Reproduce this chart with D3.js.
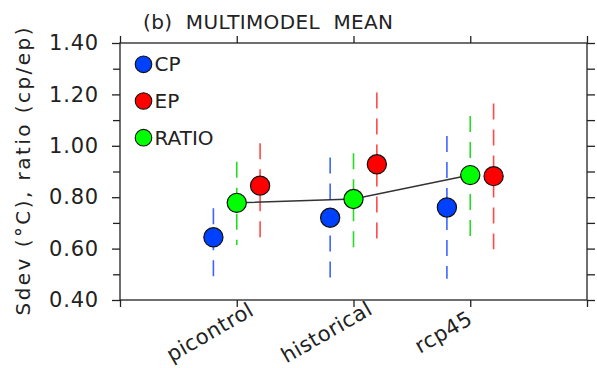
<!DOCTYPE html>
<html>
<head>
<meta charset="utf-8">
<script src="https://cdn.jsdelivr.net/npm/d3@7"></script>
<style>
  body { margin: 0; background: #fff; }
  text { font-family: "DejaVu Sans", sans-serif; fill: #222; }
</style>
</head>
<body>
<div id="chart"></div>
<script>
// experiments on the x axis
const experiments = ['picontrol', 'historical', 'rcp45'];

// multimodel mean values
const cpMean = [0.644, 0.72, 0.76];
const epMean = [0.845, 0.928, 0.882];
const ratioMean = [0.778, 0.793, 0.886];

// spread (vertical dashed bars)
const cpLow = [0.49, 0.483, 0.483];
const cpHigh = [0.757, 0.954, 1.038];
const epLow = [0.642, 0.633, 0.597];
const epHigh = [1.01, 1.207, 1.165];
const ratioLow = [0.614, 0.604, 0.646];
const ratioHigh = [0.938, 0.971, 1.116];

const yMajor = [0.4, 0.6, 0.8, 1.0, 1.2, 1.4];
const yMinor = [0.5, 0.7, 0.9, 1.1, 1.3];
const legendNames = ['CP', 'EP', 'RATIO'];

const width = 597, height = 368;
const margin = {top: 43, right: 10, bottom: 68, left: 120};

const svg = d3.select('#chart').append('svg')
  .attr('width', width)
  .attr('height', height);

const x = d3.scaleLinear().domain([0, 4]).range([margin.left, width - margin.right]);
const y = d3.scaleLinear().domain([0.4, 1.4]).range([height - margin.bottom, margin.top]);

const series = [
  {name: 'CP', mean: cpMean, lo: cpLow, hi: cpHigh, off: -0.2, fill: '#0040ff', dash: '#3a66ff'},
  {name: 'RATIO', mean: ratioMean, lo: ratioLow, hi: ratioHigh, off: 0, fill: '#00ff00', dash: '#22dd22'},
  {name: 'EP', mean: epMean, lo: epLow, hi: epHigh, off: 0.2, fill: '#ff0000', dash: '#ff4a4a'}
];

// axes - ticks pointing outward
const axisColor = '#222';
function styleAxis(g) {
  g.select('.domain').remove();
  g.selectAll('line').attr('stroke', axisColor).attr('stroke-width', 1.3);
  g.selectAll('text').attr('font-size', 21).attr('fill', '#222')
    .attr('letter-spacing', 0.8);
}

svg.append('g')
  .attr('transform', 'translate(' + margin.left + ',0)')
  .call(d3.axisLeft(y).tickValues(yMajor).tickSize(8).tickPadding(13).tickFormat(d3.format('.2f')))
  .call(styleAxis)
  .call(g => g.selectAll('text').attr('font-family', '"DejaVu Sans", sans-serif'));
svg.append('g')
  .attr('transform', 'translate(' + margin.left + ',0)')
  .call(d3.axisLeft(y).tickValues(yMinor).tickSize(7).tickFormat(''))
  .call(styleAxis);
svg.append('g')
  .attr('transform', 'translate(' + (width - margin.right) + ',0)')
  .call(d3.axisRight(y).tickValues(yMajor.concat(yMinor)).tickSize(8).tickFormat(''))
  .call(styleAxis);

const xTicks = [0, 1, 2, 3, 4];
svg.append('g')
  .attr('transform', 'translate(0,' + margin.top + ')')
  .call(d3.axisTop(x).tickValues(xTicks).tickSize(7).tickFormat(''))
  .call(styleAxis);
svg.append('g')
  .attr('transform', 'translate(0,' + (height - margin.bottom) + ')')
  .call(d3.axisBottom(x).tickValues(xTicks).tickSize(7).tickFormat(''))
  .call(styleAxis);

// frame
svg.append('rect')
  .attr('x', x(0)).attr('y', y(1.4))
  .attr('width', x(4) - x(0)).attr('height', y(0.4) - y(1.4))
  .attr('fill', 'none').attr('stroke', axisColor).attr('stroke-width', 1.3);

// rotated category labels
svg.append('g').selectAll('text')
  .data(experiments)
  .join('text')
  .attr('transform', (d, i) => 'translate(' + (x(i + 1) - 27) + ',' + (height - margin.bottom + 32) + ') rotate(-30)')
  .attr('text-anchor', 'middle')
  .attr('dy', '0.35em')
  .attr('font-size', 21)
  .attr('letter-spacing', 0.5)
  .text(d => d);

// dashed spread bars
series.forEach(s => {
  svg.append('g').selectAll('line')
    .data(s.mean)
    .join('line')
    .attr('x1', (d, i) => x(i + 1 + s.off))
    .attr('x2', (d, i) => x(i + 1 + s.off))
    .attr('y1', (d, i) => y(s.hi[i]))
    .attr('y2', (d, i) => y(s.lo[i]))
    .attr('stroke', s.dash)
    .attr('stroke-width', 1.6)
    .attr('stroke-dasharray', '16,10');
});

// line through the ratio points
svg.append('path')
  .datum(ratioMean)
  .attr('d', d3.line().x((d, i) => x(i + 1)).y(d => y(d)))
  .attr('fill', 'none')
  .attr('stroke', '#333')
  .attr('stroke-width', 1.5);

// markers
series.forEach(s => {
  svg.append('g').selectAll('circle')
    .data(s.mean)
    .join('circle')
    .attr('cx', (d, i) => x(i + 1 + s.off))
    .attr('cy', d => y(d))
    .attr('r', 9.6)
    .attr('fill', s.fill)
    .attr('stroke', '#111')
    .attr('stroke-width', 1.2);
});

// legend
const legendColors = {CP: '#0040ff', EP: '#ff0000', RATIO: '#00ff00'};
const leg = svg.append('g').selectAll('g')
  .data(legendNames)
  .join('g')
  .attr('transform', (d, i) => 'translate(143.5,' + (64.3 + i * 36.7) + ')');
leg.append('circle')
  .attr('r', 8.3)
  .attr('fill', d => legendColors[d])
  .attr('stroke', '#111')
  .attr('stroke-width', 1.1);
leg.append('text')
  .attr('x', 11)
  .attr('y', 7)
  .attr('font-size', 20)
  .text(d => d);

// title
svg.append('text')
  .attr('x', 143)
  .attr('y', 28.5)
  .attr('font-size', 20)
  .attr('textLength', 250)
  .attr('lengthAdjust', 'spacing')
  .style('white-space', 'pre')
  .text('(b)  MULTIMODEL  MEAN');

// y axis title
svg.append('text')
  .attr('transform', 'translate(30,' + ((y(0.4) + y(1.4)) / 2) + ') rotate(-90)')
  .attr('text-anchor', 'middle')
  .attr('font-size', 20)
  .attr('textLength', 288)
  .attr('lengthAdjust', 'spacing')
  .text('Sdev (°C), ratio (cp/ep)');
</script>
</body>
</html>
